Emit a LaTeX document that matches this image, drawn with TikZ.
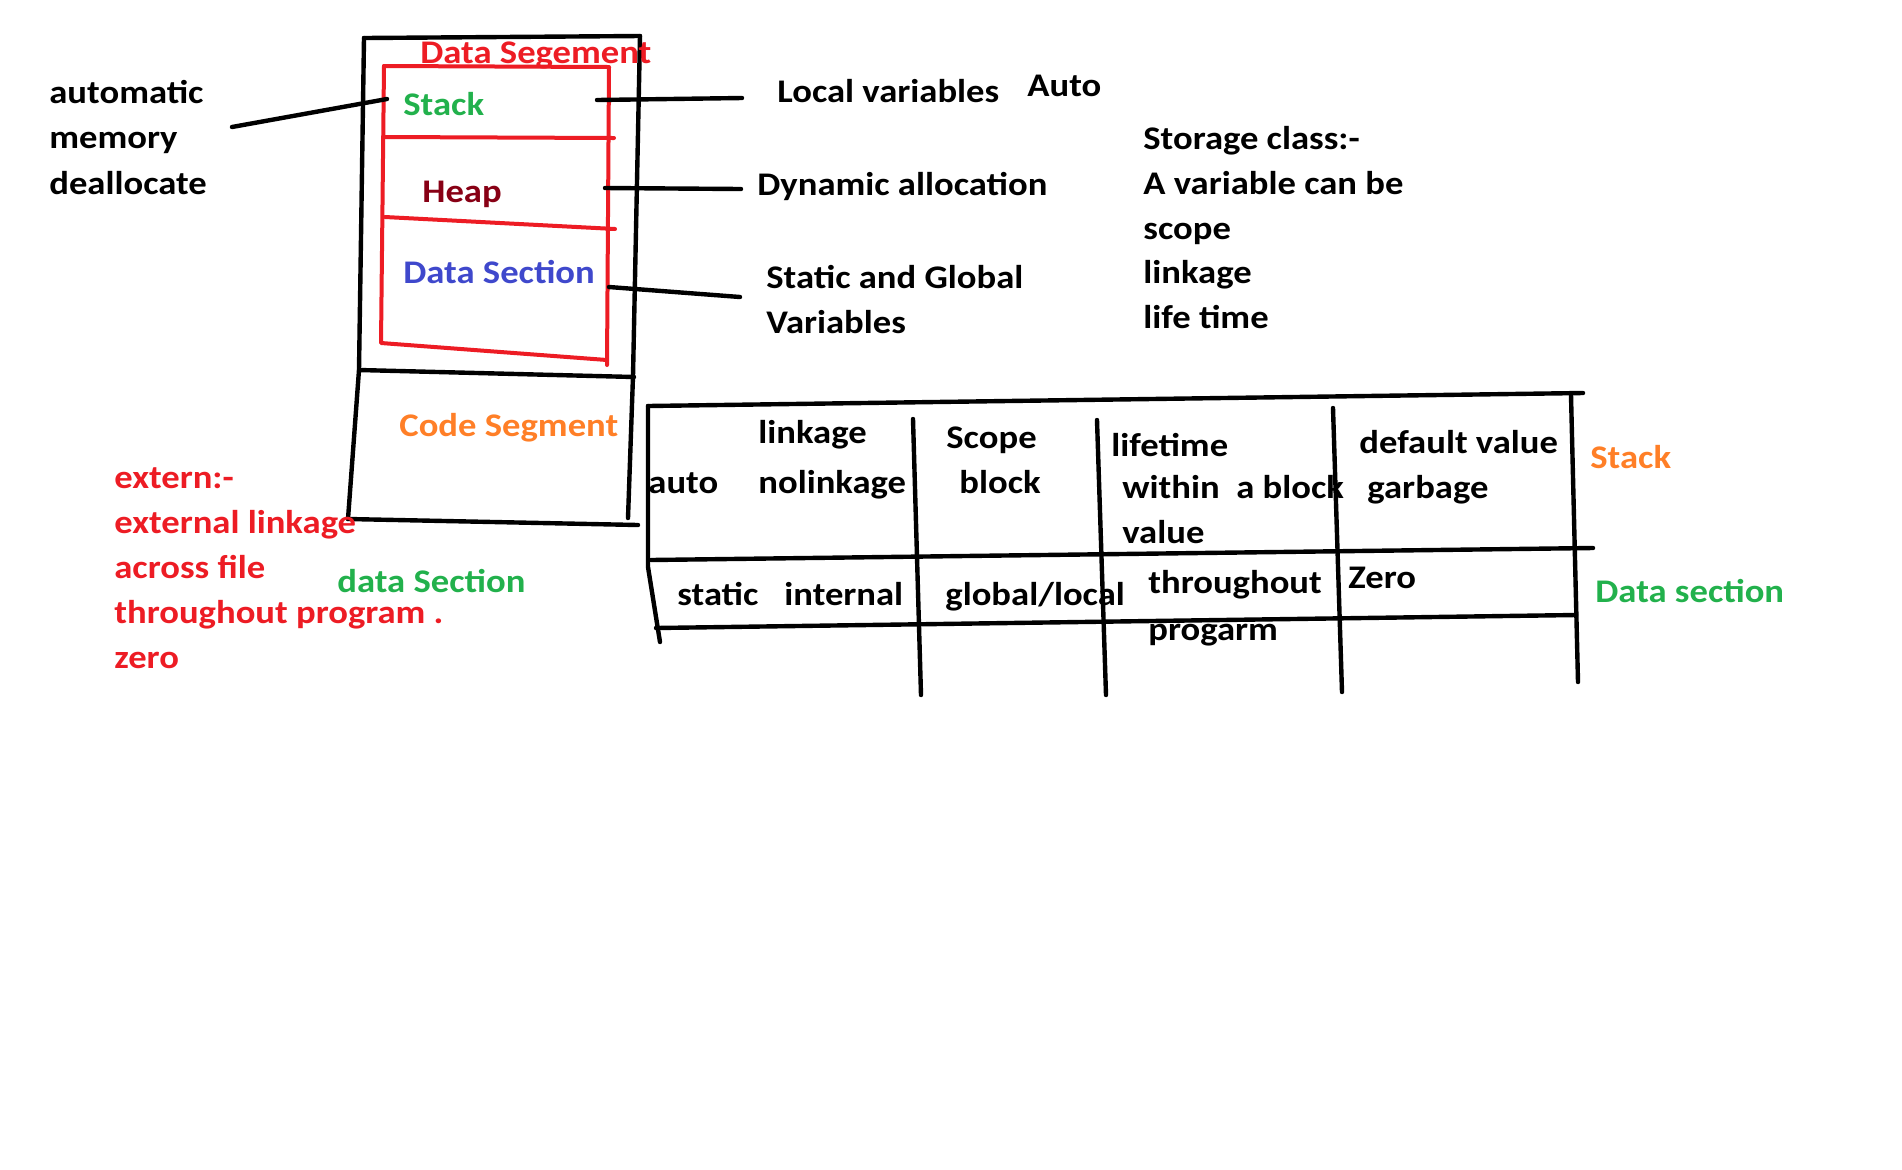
\documentclass[tikz,border=0pt]{standalone}
\usepackage{fontspec}
\setmainfont{Carlito}[FakeStretch=1.11]
\definecolor{pred}{HTML}{ED1C24}
\definecolor{pgreen}{HTML}{22B14C}
\definecolor{pdarkred}{HTML}{880015}
\definecolor{pblue}{HTML}{3F48CC}
\definecolor{porange}{HTML}{FF7F27}
\begin{document}
\begin{tikzpicture}[x=0.5pt,y=-0.5pt,
  txt/.style={anchor=base west,inner sep=0pt,font=\fontsize{16.5}{20}\selectfont\bfseries},
  blk/.style={draw=black,line width=2.2pt,line cap=round,line join=round},
  rbox/.style={draw=pred,line width=2pt,line cap=round,line join=round}]
\fill[white] (0,0) rectangle (1902,1169);
\path[use as bounding box] (0,0) rectangle (1902,1169);

% ---- memory layout box ----
\coordinate (otl) at (364,38);
\coordinate (otr) at (640,36);
\coordinate (oml) at (359,370);
\coordinate (omr) at (634,377);
\coordinate (obl) at (348,519);
\coordinate (obr) at (638,525);
\coordinate (obr2) at (628,518);
\draw[blk] (otl) -- (otr);
\draw[blk] (otl) -- (oml) -- (obl);
\draw[blk] (otr) -- (633,376) -- (obr2);
\draw[blk] (oml) -- (omr);
\draw[blk] (obl) -- (obr);

% red data segment box
\coordinate (rtl) at (384,66);
\coordinate (rtr) at (609,67);
\coordinate (rbl) at (381,343);
\coordinate (rbr) at (607,360);
\draw[rbox] (rtl) -- (rtr) -- (607,365);
\draw[rbox] (rtl) -- (rbl) -- (rbr);
\draw[rbox] (385,137) -- (614,138);
\draw[rbox] (385,217) -- (615,229);

% labels in box
\node[txt,text=pred] (dseg) at (420,63) {Data Segement};
\node[txt,text=pgreen] (stack) at (403,115) {Stack};
\node[txt,text=pdarkred] (heap) at (422,202) {Heap};
\node[txt,text=pblue] (dsec) at (403,283) {Data Section};
\node[txt,text=porange] (cseg) at (399,436) {Code Segment};

% left notes
\node[txt] (am1) at (49,103) {automatic};
\node[txt] (am2) at (49,148) {memory};
\node[txt] (am3) at (49,194) {deallocate};

% right notes
\node[txt] (locv) at (777,102) {Local variables};
\node[txt] (autoA) at (1027,96) {Auto};
\node[txt] (dyn) at (757,195) {Dynamic allocation};
\node[txt] (sg1) at (766,288) {Static and Global};
\node[txt] (sg2) at (766,333) {Variables};
\node[txt] (sc1) at (1143,149) {Storage class:-};
\node[txt] (sc2) at (1143,194) {A variable can be};
\node[txt] (sc3) at (1143,239) {scope};
\node[txt] (sc4) at (1143,283) {linkage};
\node[txt] (sc5) at (1143,328) {life time};

% connectors
\coordinate (c1a) at (232,127);
\coordinate (c1b) at (387,99);
\coordinate (c2a) at (597,100);
\coordinate (c2b) at (742,98);
\coordinate (c3a) at (605,188);
\coordinate (c3b) at (741,189);
\coordinate (c4a) at (609,287);
\coordinate (c4b) at (740,297);
\draw[blk] (c1a) -- (c1b);
\draw[blk] (c2a) -- (c2b);
\draw[blk] (c3a) -- (c3b);
\draw[blk] (c4a) -- (c4b);

% extern notes
\node[txt,text=pred] (ex1) at (114,488) {extern:-};
\node[txt,text=pred] (ex2) at (114,533) {external linkage};
\node[txt,text=pred] (ex3) at (114,578) {across file};
\node[txt,text=pred] (ex4) at (114,623) {throughout program .};
\node[txt,text=pred] (ex5) at (114,668) {zero};
\node[txt,text=pgreen] (dsec2) at (337,592) {data Section};

% ---- table ----
\coordinate (ttl) at (648,406);
\coordinate (ttr) at (1583,393);
\coordinate (tml) at (651,560);
\coordinate (tmr) at (1593,548);
\coordinate (tbl) at (656,628);
\coordinate (tbr) at (1576,615);
\draw[blk] (ttl) -- (ttr);
\draw[blk] (ttl) -- (648,567) -- (660,642);
\draw[blk] (tml) -- (tmr);
\draw[blk] (tbl) -- (tbr);
\draw[blk] (913,419) -- (921,695);
\draw[blk] (1097,420) -- (1106,695);
\draw[blk] (1333,408) -- (1342,692);
\draw[blk] (1571,395) -- (1578,682);

\node[txt] (t1) at (758,443) {linkage};
\node[txt] (t2) at (648,493) {auto};
\node[txt] (t3) at (758,493) {nolinkage};
\node[txt] (t4) at (946,448) {Scope};
\node[txt] (t5) at (959,493) {block};
\node[txt] (t6) at (1111,456) {lifetime};
\node[txt] (t7) at (1122,498) {within\ \ a block};
\node[txt] (t8) at (1122,543) {value};
\node[txt] (t9) at (1359,453) {default value};
\node[txt] (t10) at (1367,498) {garbage};
\node[txt] (t11) at (677,605) {static};
\node[txt] (t12) at (784,605) {internal};
\node[txt] (t13) at (945,605) {global/local};
\node[txt] (t14) at (1148,593) {throughout};
\node[txt] (t15) at (1148,640) {progarm};
\node[txt] (t16) at (1348,588) {Zero};
\node[txt,text=porange] (rs) at (1590,468) {Stack};
\node[txt,text=pgreen] (rd) at (1595,602) {Data section};
\end{tikzpicture}
\end{document}
